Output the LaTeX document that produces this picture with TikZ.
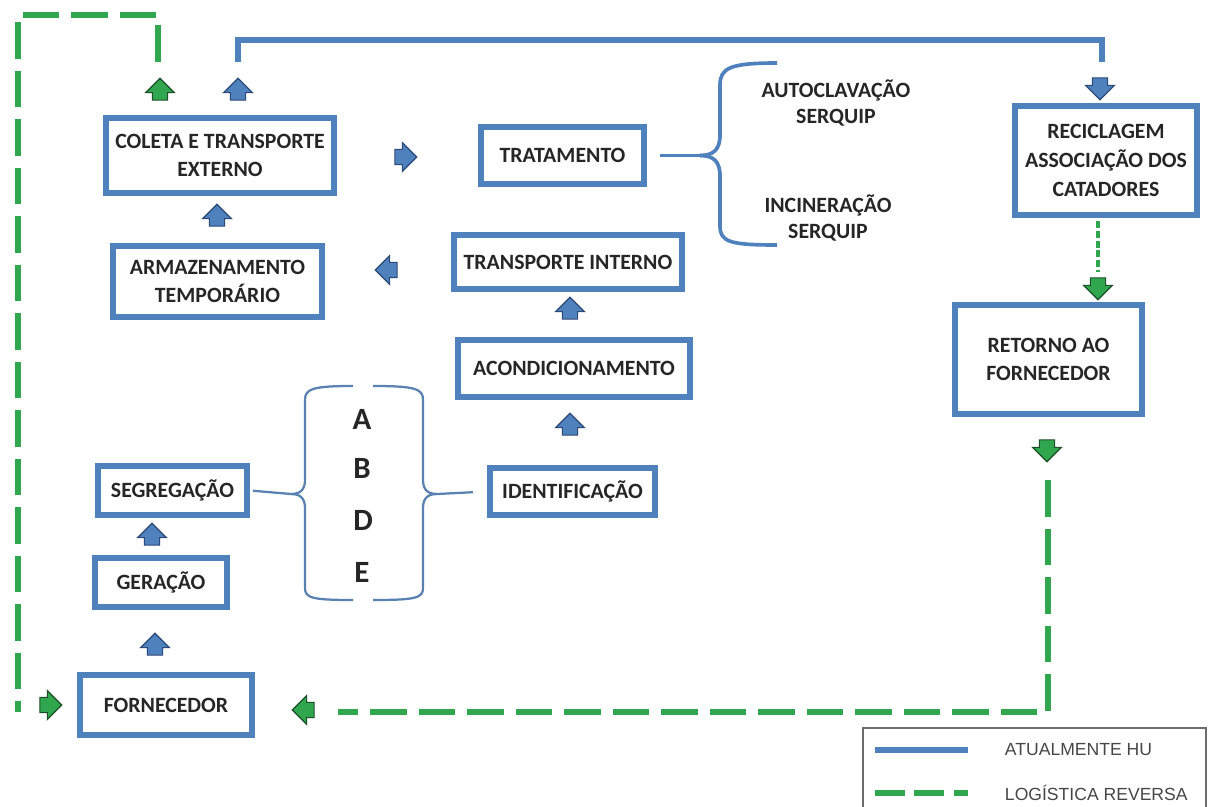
\documentclass[tikz,border=0pt]{standalone}
\usepackage{fontspec}
\setmainfont{Carlito}
\newfontfamily\legendfont{Liberation Sans}
\usetikzlibrary{shapes.arrows}
\definecolor{boxblue}{RGB}{79,129,189}
\definecolor{arrowblue}{RGB}{44,74,120}
\definecolor{revgreen}{RGB}{48,166,78}
\definecolor{darkgreen}{RGB}{28,80,40}
\definecolor{txt}{RGB}{38,38,38}
\definecolor{legtxt}{RGB}{70,70,70}

\begin{document}
\begin{tikzpicture}[x=0.025cm,y=-0.025cm,
	etapa/.style={draw=boxblue,line width=4.3pt,fill=white,align=center,text=txt,inner sep=0pt,
		font=\bfseries\fontsize{15.5}{20.5}\selectfont},
	destino/.style={align=center,text=txt,font=\bfseries\fontsize{15.5}{18.5}\selectfont},
	letra/.style={text=txt,font=\bfseries\fontsize{22}{26}\selectfont},
	seta/.style={single arrow,single arrow head extend=0.16cm,minimum height=0pt,
		minimum width=0.72cm,inner sep=0.165cm,line width=0.8pt},
	setaazul/.style={seta,fill=boxblue,draw=arrowblue},
	setaverde/.style={seta,fill=revgreen,draw=darkgreen},
	atual/.style={draw=boxblue,line width=3.6pt},
	reversa/.style={draw=revgreen,line width=4.3pt,dash pattern=on 26pt off 8.5pt},
	chave/.style={draw=boxblue,line width=2.6pt},
	chaveclara/.style={draw=boxblue!80!gray,line width=1.6pt},
	legenda/.style={anchor=west,text=legtxt,font=\legendfont\fontsize{12.5}{15}\selectfont}]
	\useasboundingbox (0,0) rectangle (1208,807);

	% etapas
	\node[etapa,minimum width=5.7cm,minimum height=1.875cm] (coleta) at (220,155.5) {COLETA E TRANSPORTE\\EXTERNO};
	\node[etapa,minimum width=5.225cm,minimum height=1.775cm] (armazenamento) at (217.5,281.5) {ARMAZENAMENTO\\TEMPORÁRIO};
	\node[etapa,minimum width=4.075cm,minimum height=1.425cm] (tratamento) at (562.5,155.5) {TRATAMENTO};
	\node[etapa,minimum width=5.7cm,minimum height=1.35cm] (transporte) at (568,262) {TRANSPORTE INTERNO};
	\node[etapa,minimum width=5.8cm,minimum height=1.425cm] (acondicionamento) at (574,368.5) {ACONDICIONAMENTO};
	\node[etapa,minimum width=4.125cm,minimum height=1.175cm] (identificacao) at (572.5,491.5) {IDENTIFICAÇÃO};
	\node[etapa,minimum width=3.725cm,minimum height=1.225cm] (segregacao) at (172.5,490.5) {SEGREGAÇÃO};
	\node[etapa,minimum width=3.3cm,minimum height=1.225cm] (geracao) at (161,582.5) {GERAÇÃO};
	\node[etapa,minimum width=4.3cm,minimum height=1.5cm] (fornecedor) at (166,705) {FORNECEDOR};
	\node[etapa,minimum width=4.55cm,minimum height=2.725cm] (reciclagem) at (1106,160.5) {RECICLAGEM\\ASSOCIAÇÃO DOS\\CATADORES};
	\node[etapa,minimum width=4.675cm,minimum height=2.725cm] (retorno) at (1048.5,359.5) {RETORNO AO\\FORNECEDOR};

	% destinos do tratamento
	\node[destino] (autoclavacao) at (836,103) {AUTOCLAVAÇÃO\\SERQUIP};
	\node[destino] (incineracao) at (828,218) {INCINERAÇÃO\\SERQUIP};

	% grupos
	\node[letra] (grupoA) at (362,419) {A};
	\node[letra] (grupoB) at (362,468) {B};
	\node[letra] (grupoD) at (363,520) {D};
	\node[letra] (grupoE) at (362,572) {E};

	% setas
	\node[setaverde,shape border rotate=90] (sobeverde) at (160,93) {};
	\node[setaazul,shape border rotate=90] (sobeazul) at (238,93) {};
	\node[setaazul,shape border rotate=90] (armcol) at (217,219) {};
	\node[setaazul] (coltrat) at (402,157) {};
	\node[setaazul,shape border rotate=180] (transparm) at (390,270) {};
	\node[setaazul,shape border rotate=90] (acondtransp) at (570,312) {};
	\node[setaazul,shape border rotate=90] (identacond) at (570,428) {};
	\node[setaazul,shape border rotate=90] (gerseg) at (152,538) {};
	\node[setaazul,shape border rotate=90] (forger) at (155,648) {};
	\node[setaverde] (chegaesq) at (47,705) {};
	\node[setaverde,shape border rotate=180] (chegadir) at (307,710) {};
	\node[setaazul,shape border rotate=270] (desceazul) at (1100,85) {};
	\node[setaverde,shape border rotate=270] (reciret) at (1098,285) {};
	\node[setaverde,shape border rotate=270] (desceverde) at (1047,447) {};

	% linhas
	\coordinate (azulA) at (238,62);
	\coordinate (azulB) at (1102,62);
	\draw[atual] (azulA) -- ++(0,-22) -| (azulB);
	\coordinate (verdeA) at (158,62);
	\coordinate (verdeB) at (18,712);
	\draw[reversa] (verdeA) -- ++(0,-47) -| (verdeB);
	\coordinate (verdeC) at (1048,480);
	\coordinate (verdeD) at (338,712);
	\draw[reversa] (verdeC) |- (verdeD);
	\draw[draw=revgreen,line width=3pt,dash pattern=on 5pt off 2pt,shorten <=2pt,shorten >=4pt]
		(reciret.tail |- reciclagem.south) -- (reciret.tail);

	% chaves
	\coordinate (bicotrat) at (700,155.5);
	\draw[chave,shorten <=9pt] (tratamento.east) -- (bicotrat);
	\draw[chave] (bicotrat) .. controls (713,155.5) and (720,150) .. (720,135) -- (720,85)
		.. controls (720,68) and (730,63) .. (777,63);
	\draw[chave] (bicotrat) .. controls (713,155.5) and (720,161) .. (720,176) -- (720,226)
		.. controls (720,242) and (730,245) .. (777,245);
	\coordinate (bicoseg) at (291,494);
	\draw[chaveclara,shorten <=2pt] (segregacao.east) -- (bicoseg);
	\draw[chaveclara] (bicoseg) .. controls (300,494) and (305,490) .. (305,480) -- (305,400)
		.. controls (305,389) and (312,386) .. (353,386);
	\draw[chaveclara] (bicoseg) .. controls (300,494) and (305,498) .. (305,508) -- (305,588)
		.. controls (305,598) and (312,600) .. (353,600);
	\coordinate (bicoid) at (437,494);
	\draw[chaveclara,shorten >=10pt] (bicoid) -- (identificacao.west);
	\draw[chaveclara] (bicoid) .. controls (428,494) and (423,490) .. (423,480) -- (423,400)
		.. controls (423,389) and (416,386) .. (373,386);
	\draw[chaveclara] (bicoid) .. controls (428,494) and (423,498) .. (423,508) -- (423,588)
		.. controls (423,598) and (416,600) .. (373,600);

	% legenda
	\draw[draw=gray!85!black,line width=1.4pt] (863,728) rectangle (1206,820);
	\coordinate (legA) at (875,750);
	\coordinate (legB) at (968,750);
	\coordinate (legC) at (875,793);
	\coordinate (legD) at (968,793);
	\draw[atual] (legA) -- (legB);
	\draw[reversa,dash pattern=on 21pt off 7pt] (legC) -- (legD);
	\node[legenda] (atualmente) at (1000,750) {ATUALMENTE HU};
	\node[legenda] (logistica) at (1000,793) {LOGÍSTICA REVERSA};
\end{tikzpicture}
\end{document}
